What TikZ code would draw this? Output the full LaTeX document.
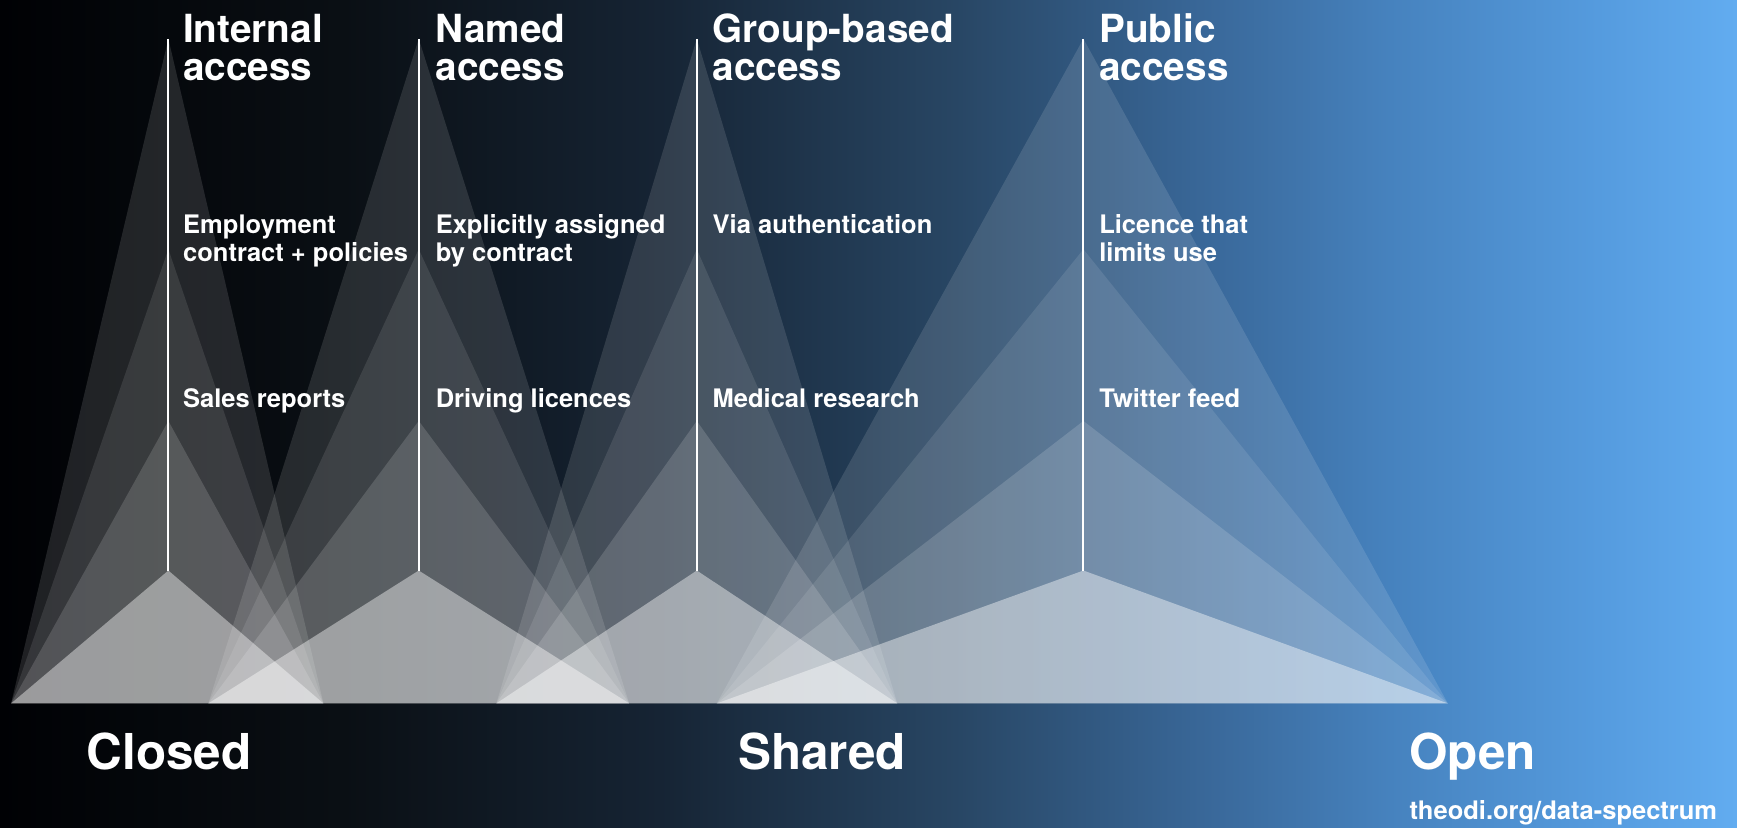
\documentclass[tikz,border=0pt]{standalone}
\usepackage{fontspec}
\setmainfont{TeX Gyre Heros}

% dark-to-light blue backdrop (tikz maps 25bp..75bp onto the path)
\pgfdeclarehorizontalshading{spectrum}{100bp}{%
  rgb(0bp)=(0,0.004,0.016);
  rgb(25bp)=(0,0.004,0.016);
  rgb(35bp)=(0.04,0.06,0.08);
  rgb(44bp)=(0.086,0.141,0.204);
  rgb(52.5bp)=(0.157,0.275,0.392);
  rgb(60bp)=(0.227,0.412,0.608);
  rgb(65bp)=(0.275,0.510,0.745);
  rgb(71bp)=(0.333,0.608,0.871);
  rgb(75bp)=(0.384,0.675,0.941);
  rgb(100bp)=(0.384,0.675,0.941)}

\tikzset{
  heading/.style={font=\bfseries\fontsize{19.9}{19.9}\selectfont, text=white,
    anchor=base west, align=left, inner sep=0pt},
  example/.style={font=\bfseries\fontsize{13.1}{14.2}\selectfont, text=white,
    anchor=base west, align=left, inner sep=0pt},
  pole/.style={font=\bfseries\fontsize{25.4}{26}\selectfont, text=white,
    anchor=base west, inner sep=0pt},
  beam/.style={fill=white, fill opacity=#1},
  stem/.style={draw=white, line width=1.1pt}
}

\begin{document}
\begin{tikzpicture}[x=0.2mm,y=-0.2mm]
\useasboundingbox (0,0) rectangle (1568,747);
\shade[shading=spectrum] (0,0) rectangle (1568,747);

% light fans, all of one column sharing the same base
\foreach \x/\l/\r in {152/10/292, 378/188/568, 629/448/810, 978/647/1307}
  \foreach \y/\o in {35/0.12, 225/0.10, 380/0.15, 515/0.42}
    \fill[beam=\o] (\x,\y) -- (\l,635) -- (\r,635) -- cycle;

\foreach \x in {152,378,629,978}
  \draw[stem] (\x,35) -- (\x,515);

% multi-line nodes sit on the baseline of their last line
\node[heading] (internal) at (165,73) {Internal\\access};
\node[heading] (named) at (393,73) {Named\\access};
\node[heading] (group) at (643,73) {Group-based\\access};
\node[heading] (public) at (992,73) {Public\\access};

\node[example] (employ) at (165,236) {Employment\\contract + policies};
\node[example] (assigned) at (393,236) {Explicitly assigned\\by contract};
\node[example] (auth) at (643,211) {Via authentication};
\node[example] (licence) at (992,236) {Licence that\\limits use};

\node[example] (sales) at (165,368) {Sales reports};
\node[example] (driving) at (393,368) {Driving licences};
\node[example] (medical) at (643,368) {Medical research};
\node[example] (twitter) at (992,368) {Twitter feed};

\node[pole] (closed) at (78,695) {Closed};
\node[pole] (shared) at (666,695) {Shared};
\node[pole] (open) at (1272,695) {Open};
\node[example] (link) at (1272,740) {theodi.org/data-spectrum};
\end{tikzpicture}
\end{document}
